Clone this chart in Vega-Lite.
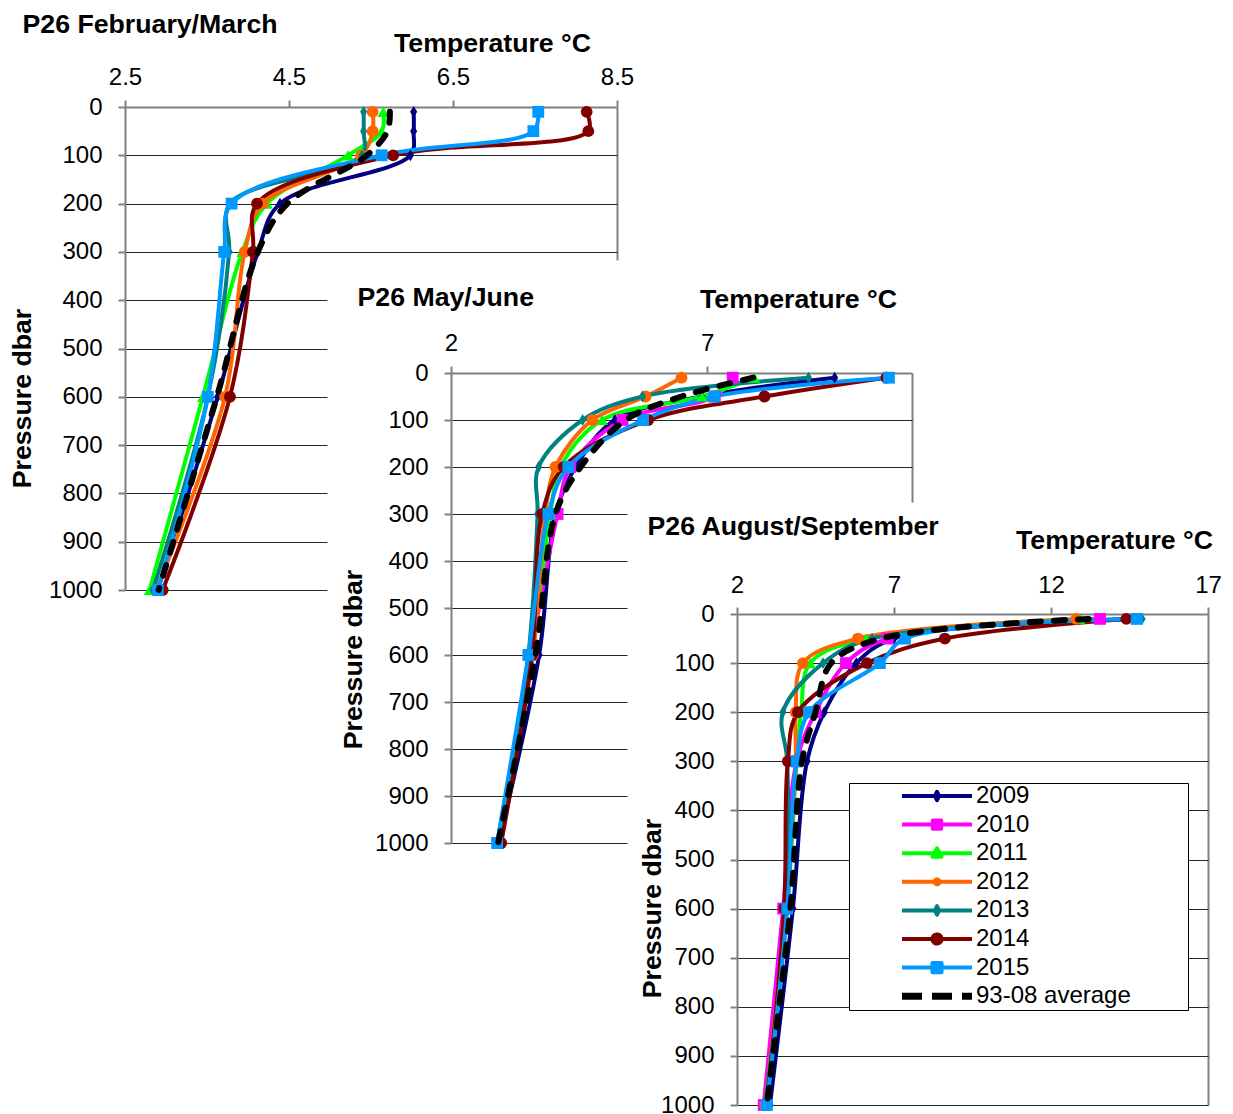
{
  "$schema": "https://vega.github.io/schema/vega-lite/v6.json",
  "width": 1233,
  "height": 1114,
  "padding": 0,
  "autosize": "none",
  "background": "white",
  "config": {
    "font": "Liberation Sans",
    "view": {"stroke": null},
    "axis": {
      "labelFont": "Liberation Sans", "labelFontSize": 24, "labelColor": "#000000",
      "titleFont": "Liberation Sans", "titleFontSize": 26.7, "titleFontWeight": "bold", "titleColor": "#000000",
      "domainColor": "#808080", "domainWidth": 2, "tickColor": "#808080", "tickWidth": 2, "tickSize": 7,
      "gridColor": "#262626", "gridWidth": 1.2, "labelOverlap": false, "labelFlush": false, "labelBound": false
    }
  },
  "datasets": {
    "p1": [
      {"s":"2009","p":10,"t":6.02},{"s":"2009","p":50,"t":6.02},{"s":"2009","p":100,"t":5.98},{"s":"2009","p":200,"t":4.39},{"s":"2009","p":300,"t":4.12},{"s":"2009","p":600,"t":3.63},{"s":"2009","p":1000,"t":2.90},
      {"s":"2011","p":10,"t":5.65},{"s":"2011","p":50,"t":5.63},{"s":"2011","p":100,"t":5.22},{"s":"2011","p":200,"t":4.23},{"s":"2011","p":300,"t":3.93},{"s":"2011","p":600,"t":3.45},{"s":"2011","p":1000,"t":2.80},
      {"s":"2012","p":10,"t":5.52},{"s":"2012","p":50,"t":5.52},{"s":"2012","p":100,"t":5.38},{"s":"2012","p":200,"t":4.18},{"s":"2012","p":300,"t":3.96},{"s":"2012","p":600,"t":3.72},{"s":"2012","p":1000,"t":2.88},
      {"s":"2013","p":10,"t":5.41},{"s":"2013","p":50,"t":5.41},{"s":"2013","p":100,"t":5.39},{"s":"2013","p":200,"t":3.78},{"s":"2013","p":300,"t":3.77},{"s":"2013","p":600,"t":3.51},{"s":"2013","p":1000,"t":2.84},
      {"s":"2014","p":10,"t":8.13},{"s":"2014","p":50,"t":8.15},{"s":"2014","p":100,"t":5.77},{"s":"2014","p":200,"t":4.11},{"s":"2014","p":300,"t":4.06},{"s":"2014","p":600,"t":3.78},{"s":"2014","p":1000,"t":2.96},
      {"s":"2015","p":10,"t":7.54},{"s":"2015","p":50,"t":7.48},{"s":"2015","p":100,"t":5.63},{"s":"2015","p":200,"t":3.80},{"s":"2015","p":300,"t":3.71},{"s":"2015","p":600,"t":3.51},{"s":"2015","p":1000,"t":2.90},
      {"s":"93-08 average","p":10,"t":5.73},{"s":"93-08 average","p":50,"t":5.70},{"s":"93-08 average","p":100,"t":5.45},{"s":"93-08 average","p":200,"t":4.48},{"s":"93-08 average","p":300,"t":4.12},{"s":"93-08 average","p":600,"t":3.62},{"s":"93-08 average","p":1000,"t":2.91}
    ],
    "p2": [
      {"s":"2009","p":10,"t":9.49},{"s":"2009","p":50,"t":6.9},{"s":"2009","p":100,"t":5.2},{"s":"2009","p":200,"t":4.43},{"s":"2009","p":300,"t":4.04},{"s":"2009","p":600,"t":3.72},{"s":"2009","p":1000,"t":2.93},
      {"s":"2010","p":10,"t":7.50},{"s":"2010","p":50,"t":7.15},{"s":"2010","p":100,"t":5.35},{"s":"2010","p":200,"t":4.33},{"s":"2010","p":300,"t":4.08},{"s":"2010","p":600,"t":3.55},{"s":"2010","p":1000,"t":2.92},
      {"s":"2011","p":10,"t":7.92},{"s":"2011","p":50,"t":6.9},{"s":"2011","p":100,"t":4.95},{"s":"2011","p":200,"t":4.14},{"s":"2011","p":300,"t":3.94},{"s":"2011","p":600,"t":3.56},{"s":"2011","p":1000,"t":2.92},
      {"s":"2012","p":10,"t":6.50},{"s":"2012","p":50,"t":5.80},{"s":"2012","p":100,"t":4.76},{"s":"2012","p":200,"t":4.04},{"s":"2012","p":300,"t":3.84},{"s":"2012","p":600,"t":3.60},{"s":"2012","p":1000,"t":2.92},
      {"s":"2013","p":10,"t":8.98},{"s":"2013","p":50,"t":5.74},{"s":"2013","p":100,"t":4.57},{"s":"2013","p":200,"t":3.71},{"s":"2013","p":300,"t":3.69},{"s":"2013","p":600,"t":3.51},{"s":"2013","p":1000,"t":2.90},
      {"s":"2014","p":10,"t":10.5},{"s":"2014","p":50,"t":8.12},{"s":"2014","p":100,"t":5.85},{"s":"2014","p":200,"t":4.20},{"s":"2014","p":300,"t":3.78},{"s":"2014","p":600,"t":3.58},{"s":"2014","p":1000,"t":2.98},
      {"s":"2015","p":10,"t":10.55},{"s":"2015","p":50,"t":7.14},{"s":"2015","p":100,"t":5.75},{"s":"2015","p":200,"t":4.29},{"s":"2015","p":300,"t":3.90},{"s":"2015","p":600,"t":3.51},{"s":"2015","p":1000,"t":2.90},
      {"s":"93-08 average","p":10,"t":7.9},{"s":"93-08 average","p":50,"t":6.5},{"s":"93-08 average","p":100,"t":5.41},{"s":"93-08 average","p":200,"t":4.53},{"s":"93-08 average","p":300,"t":4.04},{"s":"93-08 average","p":600,"t":3.65},{"s":"93-08 average","p":1000,"t":2.92}
    ],
    "p3": [
      {"s":"2009","p":10,"t":14.7},{"s":"2009","p":50,"t":7.0},{"s":"2009","p":100,"t":5.8},{"s":"2009","p":200,"t":4.78},{"s":"2009","p":300,"t":4.23},{"s":"2009","p":600,"t":3.78},{"s":"2009","p":1000,"t":3.05},
      {"s":"2010","p":10,"t":13.56},{"s":"2010","p":50,"t":6.8},{"s":"2010","p":100,"t":5.47},{"s":"2010","p":200,"t":4.5},{"s":"2010","p":300,"t":3.90},{"s":"2010","p":600,"t":3.47},{"s":"2010","p":1000,"t":2.85},
      {"s":"2011","p":10,"t":12.9},{"s":"2011","p":50,"t":6.1},{"s":"2011","p":100,"t":4.33},{"s":"2011","p":200,"t":4.04},{"s":"2011","p":300,"t":3.90},{"s":"2011","p":600,"t":3.60},{"s":"2011","p":1000,"t":2.92},
      {"s":"2012","p":10,"t":12.8},{"s":"2012","p":50,"t":5.85},{"s":"2012","p":100,"t":4.10},{"s":"2012","p":200,"t":3.87},{"s":"2012","p":300,"t":3.87},{"s":"2012","p":600,"t":3.55},{"s":"2012","p":1000,"t":2.90},
      {"s":"2013","p":10,"t":14.9},{"s":"2013","p":50,"t":6.3},{"s":"2013","p":100,"t":4.74},{"s":"2013","p":200,"t":3.46},{"s":"2013","p":300,"t":3.60},{"s":"2013","p":600,"t":3.55},{"s":"2013","p":1000,"t":2.90},
      {"s":"2014","p":10,"t":14.4},{"s":"2014","p":50,"t":8.62},{"s":"2014","p":100,"t":6.14},{"s":"2014","p":200,"t":3.94},{"s":"2014","p":300,"t":3.62},{"s":"2014","p":600,"t":3.50},{"s":"2014","p":1000,"t":2.95},
      {"s":"2015","p":10,"t":14.73},{"s":"2015","p":50,"t":7.35},{"s":"2015","p":100,"t":6.55},{"s":"2015","p":200,"t":4.3},{"s":"2015","p":300,"t":3.90},{"s":"2015","p":600,"t":3.60},{"s":"2015","p":1000,"t":2.95},
      {"s":"93-08 average","p":10,"t":13.2},{"s":"93-08 average","p":50,"t":6.6},{"s":"93-08 average","p":100,"t":5.0},{"s":"93-08 average","p":200,"t":4.5},{"s":"93-08 average","p":300,"t":4.07},{"s":"93-08 average","p":600,"t":3.70},{"s":"93-08 average","p":1000,"t":2.95}
    ]
  },
  "layer": [
    {
      "data": {"name": "p1"},
      "mark": {"type": "point", "opacity": 0},
      "encoding": {
        "x": {"field": "t", "type": "quantitative", "scale": {"domain": [2.5, 8.5], "range": [125, 327], "nice": false, "zero": false}, "axis": null},
        "y": {"field": "p", "type": "quantitative", "scale": {"domain": [0, 1000], "range": [107, 590], "nice": false, "zero": false},
              "axis": {"orient": "left", "values": [400, 500, 600, 700, 800, 900, 1000], "labels": false, "ticks": false, "domain": false, "grid": true, "title": null}}
      }
    },
    {
      "data": {"name": "p1"},
      "mark": {"type": "point", "opacity": 0},
      "encoding": {
        "x": {"field": "t", "type": "quantitative", "scale": {"domain": [2.5, 8.5], "range": [125, 617], "nice": false, "zero": false},
              "axis": {"orient": "top", "values": [8.5], "labels": false, "ticks": false, "domain": false, "grid": true, "gridColor": "#808080", "gridWidth": 2, "title": null}},
        "y": {"field": "p", "type": "quantitative", "scale": {"domain": [0, 1000], "range": [107, 260], "nice": false, "zero": false}, "axis": null}
      }
    },
    {
      "data": {"name": "p2"},
      "mark": {"type": "point", "opacity": 0},
      "encoding": {
        "x": {"field": "t", "type": "quantitative", "scale": {"domain": [2, 11], "range": [451, 627], "nice": false, "zero": false}, "axis": null},
        "y": {"field": "p", "type": "quantitative", "scale": {"domain": [0, 1000], "range": [373, 843], "nice": false, "zero": false},
              "axis": {"orient": "left", "values": [300, 400, 500, 600, 700, 800, 900, 1000], "labels": false, "ticks": false, "domain": false, "grid": true, "title": null}}
      }
    },
    {
      "data": {"name": "p2"},
      "mark": {"type": "point", "opacity": 0},
      "encoding": {
        "x": {"field": "t", "type": "quantitative", "scale": {"domain": [2, 11], "range": [451, 912], "nice": false, "zero": false},
              "axis": {"orient": "top", "values": [11], "labels": false, "ticks": false, "domain": false, "grid": true, "gridColor": "#808080", "gridWidth": 2, "title": null}},
        "y": {"field": "p", "type": "quantitative", "scale": {"domain": [0, 1000], "range": [373, 502], "nice": false, "zero": false}, "axis": null}
      }
    },
    {
      "data": {"name": "p1"},
      "layer": [
        {
          "transform": [{"filter": "datum.s !== '93-08 average'"}],
          "mark": {"type": "line", "interpolate": "catmull-rom", "strokeWidth": 4, "strokeCap": "round", "strokeJoin": "round"},
          "encoding": {
            "x": {"field": "t", "type": "quantitative", "scale": {"domain": [2.5, 8.5], "range": [125, 617], "nice": false, "zero": false},
                  "axis": {"orient": "top", "offset": -107, "values": [2.5, 4.5, 6.5, 8.5], "format": ".1f", "labelBaseline": "alphabetic", "labelPadding": 16, "grid": false,
                           "title": "Temperature °C", "titleX": 492, "titleY": -56, "titleAlign": "center", "titleBaseline": "alphabetic"}},
            "y": {"field": "p", "type": "quantitative", "scale": {"domain": [0, 1000], "range": [107, 590], "nice": false, "zero": false},
                  "axis": {"orient": "left", "offset": -125, "values": [0, 100, 200, 300, 400, 500, 600, 700, 800, 900, 1000], "format": "d", "labelPadding": 16,
                           "grid": true, "gridOpacity": {"condition": {"test": "datum.value > 0 && datum.value <= 300", "value": 1}, "value": 0},
                           "title": "Pressure dbar", "titleX": -103, "titleY": 398, "titleAngle": 270, "titleAlign": "center", "titleBaseline": "middle"}},
            "color": {"field": "s", "type": "nominal",
                      "scale": {"domain": ["2009", "2010", "2011", "2012", "2013", "2014", "2015", "93-08 average"],
                                "range": ["#000080", "#FF00FF", "#00FF00", "#FF6600", "#008080", "#800000", "#0099FF", "#000000"]},
                      "legend": {
                        "orient": "none", "legendX": 849, "legendY": 783, "title": null, "padding": 1,
                        "strokeColor": "#000000", "fillColor": "#FFFFFF",
                        "symbolSize": 4900, "symbolStrokeWidth": 4, "symbolOffset": 75, "labelOffset": 27,
                        "rowPadding": 4.6,
                        "labelFont": "Liberation Sans", "labelFontSize": 24, "labelColor": "#000000", "labelLimit": 0,
                        "encode": {"symbols": {"update": {
                          "shape": {"signal": "datum.value === '2009' || datum.value === '2013' ? 'M-1,0H1M0,-0.12L0.06,0L0,0.12L-0.06,0ZM7.03,0L7.03,0' : datum.value === '2010' ? 'M-1,0H1M-0.12,-0.12H0.12V0.12H-0.12ZM7.03,0L7.03,0' : datum.value === '2011' ? 'M-1,0H1M0,-0.14L0.13,0.1H-0.13ZM7.03,0L7.03,0' : datum.value === '2012' ? 'M-1,0H1M-0.07,0A0.07,0.07,0,1,0,0.07,0A0.07,0.07,0,1,0,-0.07,0ZM7.03,0L7.03,0' : datum.value === '2014' ? 'M-1,0H1M-0.13,0A0.13,0.13,0,1,0,0.13,0A0.13,0.13,0,1,0,-0.13,0ZM7.03,0L7.03,0' : datum.value === '2015' ? 'M-1,0H1M-0.13,-0.13H0.13V0.13H-0.13ZM7.03,0L7.03,0' : 'M-1,0H1M7.03,0L7.03,0'"},
                          "strokeWidth": {"signal": "datum.value === '93-08 average' ? 7 : 4"},
                          "strokeDash": {"signal": "datum.value === '93-08 average' ? [20, 10] : [1, 0]"},
                          "strokeCap": {"value": "butt"},
                          "strokeJoin": {"value": "round"},
                          "fill": {"scale": "color", "field": "value"},
                          "stroke": {"scale": "color", "field": "value"},
                          "opacity": {"value": 1}
                        }}}
                      }},
            "order": {"field": "p", "type": "quantitative"}
          }
        },
        {
          "transform": [{"filter": "datum.s !== '93-08 average'"}],
          "mark": {"type": "point", "filled": true, "opacity": 1},
          "encoding": {
            "x": {"field": "t", "type": "quantitative",
                  "axis": {"orient": "top", "offset": -107, "labels": false, "ticks": false, "domain": false, "grid": false,
                           "title": "P26 February/March", "titleX": 22, "titleY": -75, "titleAlign": "left", "titleBaseline": "alphabetic"}},
            "y": {"field": "p", "type": "quantitative", "axis": null},
            "color": {"field": "s", "type": "nominal"},
            "shape": {"field": "s", "type": "nominal", "legend": null,
                      "scale": {"domain": ["2009", "2010", "2011", "2012", "2013", "2014", "2015"],
                                "range": ["M0,-1L0.6,0L0,1L-0.6,0Z", "square", "triangle-up", "circle", "M0,-1L0.6,0L0,1L-0.6,0Z", "circle", "square"]}},
            "size": {"field": "s", "type": "ordinal", "legend": null,
                     "scale": {"domain": ["2009", "2010", "2011", "2012", "2013", "2014", "2015"], "range": [140, 140, 120, 80, 100, 170, 160]}}
          }
        },
        {
          "transform": [{"filter": "datum.s === '93-08 average'"}],
          "mark": {"type": "line", "interpolate": "catmull-rom", "strokeWidth": 6, "strokeDash": [11, 13], "strokeCap": "round"},
          "encoding": {
            "x": {"field": "t", "type": "quantitative", "axis": null},
            "y": {"field": "p", "type": "quantitative", "axis": null},
            "color": {"field": "s", "type": "nominal"},
            "order": {"field": "p", "type": "quantitative"}
          }
        }
      ],
      "resolve": {"axis": {"x": "independent", "y": "independent"}}
    },
    {
      "data": {"name": "p2"},
      "layer": [
        {
          "transform": [{"filter": "datum.s !== '93-08 average'"}],
          "mark": {"type": "line", "interpolate": "catmull-rom", "strokeWidth": 4, "strokeCap": "round", "strokeJoin": "round"},
          "encoding": {
            "x": {"field": "t", "type": "quantitative", "scale": {"domain": [2, 11], "range": [451, 912], "nice": false, "zero": false},
                  "axis": {"orient": "top", "offset": -373, "values": [2, 7], "format": "d", "labelBaseline": "alphabetic", "labelPadding": 16, "grid": false,
                           "title": "Temperature °C", "titleX": 798, "titleY": -66, "titleAlign": "center", "titleBaseline": "alphabetic"}},
            "y": {"field": "p", "type": "quantitative", "scale": {"domain": [0, 1000], "range": [373, 843], "nice": false, "zero": false},
                  "axis": {"orient": "left", "offset": -451, "values": [0, 100, 200, 300, 400, 500, 600, 700, 800, 900, 1000], "format": "d", "labelPadding": 16,
                           "grid": true, "gridOpacity": {"condition": {"test": "datum.value > 0 && datum.value <= 200", "value": 1}, "value": 0},
                           "title": "Pressure dbar", "titleX": -98, "titleY": 659, "titleAngle": 270, "titleAlign": "center", "titleBaseline": "middle"}},
            "color": {"field": "s", "type": "nominal"},
            "order": {"field": "p", "type": "quantitative"}
          }
        },
        {
          "transform": [{"filter": "datum.s !== '93-08 average'"}],
          "mark": {"type": "point", "filled": true, "opacity": 1},
          "encoding": {
            "x": {"field": "t", "type": "quantitative",
                  "axis": {"orient": "top", "offset": -373, "labels": false, "ticks": false, "domain": false, "grid": false,
                           "title": "P26 May/June", "titleX": 357, "titleY": -68, "titleAlign": "left", "titleBaseline": "alphabetic"}},
            "y": {"field": "p", "type": "quantitative", "axis": null},
            "color": {"field": "s", "type": "nominal"},
            "shape": {"field": "s", "type": "nominal", "legend": null},
            "size": {"field": "s", "type": "ordinal", "legend": null}
          }
        },
        {
          "transform": [{"filter": "datum.s === '93-08 average'"}],
          "mark": {"type": "line", "interpolate": "catmull-rom", "strokeWidth": 6, "strokeDash": [11, 13], "strokeCap": "round"},
          "encoding": {
            "x": {"field": "t", "type": "quantitative", "axis": null},
            "y": {"field": "p", "type": "quantitative", "axis": null},
            "color": {"field": "s", "type": "nominal"},
            "order": {"field": "p", "type": "quantitative"}
          }
        }
      ],
      "resolve": {"axis": {"x": "independent", "y": "independent"}}
    },
    {
      "data": {"name": "p3"},
      "layer": [
        {
          "transform": [{"filter": "datum.s !== '93-08 average'"}],
          "mark": {"type": "line", "interpolate": "catmull-rom", "strokeWidth": 4, "strokeCap": "round", "strokeJoin": "round"},
          "encoding": {
            "x": {"field": "t", "type": "quantitative", "scale": {"domain": [2, 17], "range": [737, 1208], "nice": false, "zero": false},
                  "axis": {"orient": "top", "offset": -614, "values": [2, 7, 12, 17], "format": "d", "labelBaseline": "alphabetic", "labelPadding": 15,
                           "grid": true, "gridColor": "#808080", "gridWidth": 2, "gridOpacity": {"condition": {"test": "datum.value === 17", "value": 1}, "value": 0},
                           "title": "Temperature °C", "titleX": 1114, "titleY": -66, "titleAlign": "center", "titleBaseline": "alphabetic"}},
            "y": {"field": "p", "type": "quantitative", "scale": {"domain": [0, 1000], "range": [614, 1105], "nice": false, "zero": false},
                  "axis": {"orient": "left", "offset": -737, "values": [0, 100, 200, 300, 400, 500, 600, 700, 800, 900, 1000], "format": "d", "labelPadding": 16,
                           "grid": true, "gridOpacity": {"condition": {"test": "datum.value > 0", "value": 1}, "value": 0},
                           "title": "Pressure dbar", "titleX": -85, "titleY": 908, "titleAngle": 270, "titleAlign": "center", "titleBaseline": "middle"}},
            "color": {"field": "s", "type": "nominal"},
            "order": {"field": "p", "type": "quantitative"}
          }
        },
        {
          "transform": [{"filter": "datum.s !== '93-08 average'"}],
          "mark": {"type": "point", "filled": true, "opacity": 1},
          "encoding": {
            "x": {"field": "t", "type": "quantitative",
                  "axis": {"orient": "top", "offset": -614, "labels": false, "ticks": false, "domain": false, "grid": false,
                           "title": "P26 August/September", "titleX": 647, "titleY": -80, "titleAlign": "left", "titleBaseline": "alphabetic"}},
            "y": {"field": "p", "type": "quantitative", "axis": null},
            "color": {"field": "s", "type": "nominal"},
            "shape": {"field": "s", "type": "nominal", "legend": null},
            "size": {"field": "s", "type": "ordinal", "legend": null}
          }
        },
        {
          "transform": [{"filter": "datum.s === '93-08 average'"}],
          "mark": {"type": "line", "interpolate": "catmull-rom", "strokeWidth": 6, "strokeDash": [11, 13], "strokeCap": "round"},
          "encoding": {
            "x": {"field": "t", "type": "quantitative", "axis": null},
            "y": {"field": "p", "type": "quantitative", "axis": null},
            "color": {"field": "s", "type": "nominal"},
            "order": {"field": "p", "type": "quantitative"}
          }
        }
      ],
      "resolve": {"axis": {"x": "independent", "y": "independent"}}
    }
  ],
  "resolve": {"scale": {"x": "independent", "y": "independent"}}
}
